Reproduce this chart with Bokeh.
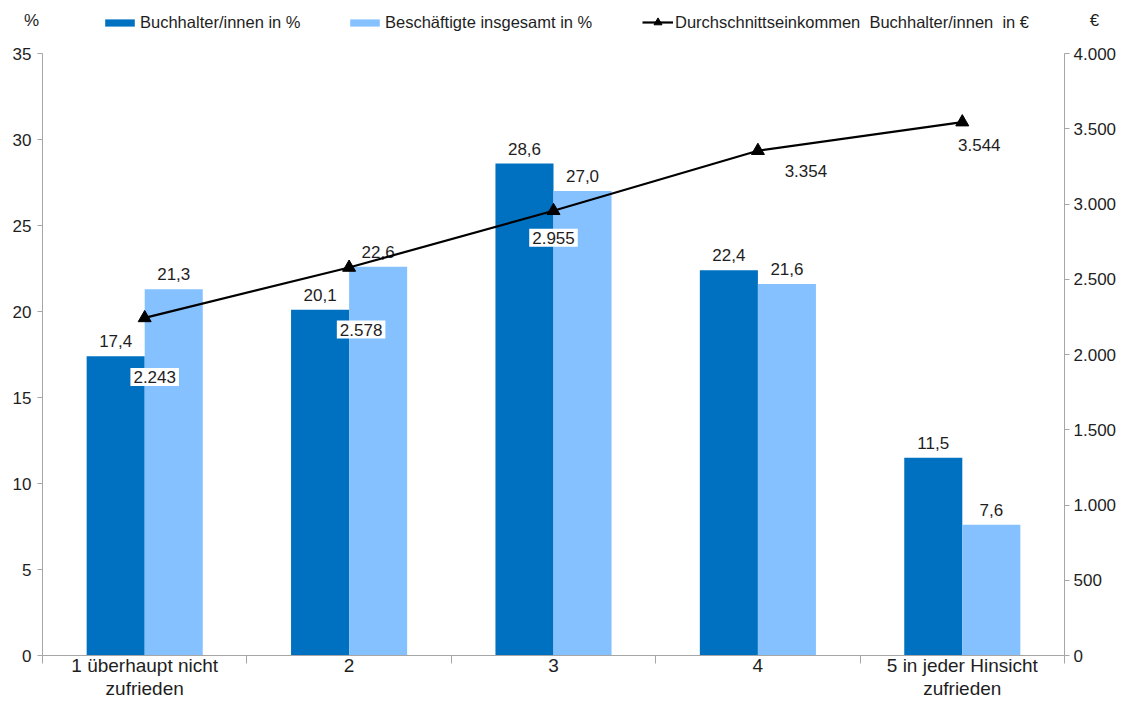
from bokeh.plotting import figure
from bokeh.models import (ColumnDataSource, Range1d, LinearAxis, FixedTicker, Legend,
                          LegendItem, Label)
from bokeh.transform import dodge
from bokeh.core.properties import value
from bokeh.embed import file_html
from bokeh.resources import INLINE

# ---------------- data ----------------
categories = ["1 überhaupt nicht\nzufrieden", "2", "3", "4", "5 in jeder Hinsicht\nzufrieden"]
buchhalter_pct = [17.4, 20.1, 28.6, 22.4, 11.5]
beschaeftigte_pct = [21.3, 22.6, 27.0, 21.6, 7.6]
einkommen_eur = [2243, 2578, 2955, 3354, 3544]
pct_ticks = [0, 5, 10, 15, 20, 25, 30, 35]
eur_ticks = [0, 500, 1000, 1500, 2000, 2500, 3000, 3500, 4000]
series_names = ["Buchhalter/innen in %", "Beschäftigte insgesamt in %",
                "Durchschnittseinkommen  Buchhalter/innen  in €"]

# ---------------- style / layout ----------------
FONT = "Liberation Sans"
DARK = "#0070C0"
LIGHT = "#86C1FF"
AXIS = "#A6A6A6"
TXT = "#1E1E1E"
W, H = 1117, 701
N = len(categories)
Y_MAX = 35
EUR_MAX = 4000
PX_LEFT, PX_RIGHT = 42, 1064      # pixel columns of the two value axes
PX_TOP_35, PX_ZERO = 53, 655      # pixel rows of value 35 and value 0
PPU = (PX_ZERO - PX_TOP_35) / Y_MAX
PPX = (PX_RIGHT - PX_LEFT) / N
Y_TOP = Y_MAX + PX_TOP_35 / PPU
Y_BOT = -(H - PX_ZERO) / PPU
X_LO = -PX_LEFT / PPX
X_HI = N + (W - PX_RIGHT) / PPX
BAR_W = 0.284
# label offsets for the income labels (screen px, right / down)
lab_dx = [10, 12, 0, 48, 17]
lab_dy = [59, 62, 27, 20, 23]

def de_num(v, dec):
    s = f"{v:,.{dec}f}"
    return s.replace(",", "X").replace(".", ",").replace("X", ".")

xc = [i + 0.5 for i in range(N)]
src = ColumnDataSource(dict(
    xc=xc,
    b=buchhalter_pct,
    g=beschaeftigte_pct,
    e=einkommen_eur,
    bl=[de_num(v, 1) for v in buchhalter_pct],
    gl=[de_num(v, 1) for v in beschaeftigte_pct],
    el=[de_num(v, 0) for v in einkommen_eur],
    dx=lab_dx,
    dy=lab_dy,
))

p = figure(width=W, height=H, output_backend="svg", toolbar_location=None,
           title=None, x_range=Range1d(X_LO, X_HI), y_range=Range1d(Y_BOT, Y_TOP),
           min_border_left=0, min_border_right=0, min_border_top=0, min_border_bottom=0)
p.extra_y_ranges = {"eur": Range1d(Y_BOT * EUR_MAX / Y_MAX, Y_TOP * EUR_MAX / Y_MAX)}
p.outline_line_color = None
p.xgrid.visible = False
p.ygrid.visible = False
p.background_fill_color = "white"
p.border_fill_color = "white"

# x axis (drawn at value 0 inside the frame)
xa = p.xaxis[0]
xa.fixed_location = 0
xa.bounds = (0, N)
xa.ticker = FixedTicker(ticks=xc, minor_ticks=list(range(N + 1)))
xa.major_label_overrides = {x: c for x, c in zip(xc, categories)}
xa.axis_line_color = AXIS
xa.major_tick_line_color = None
xa.major_tick_out = 0
xa.major_tick_in = 0
xa.minor_tick_line_color = AXIS
xa.minor_tick_out = 8
xa.minor_tick_in = 0
xa.major_label_standoff = -9
xa.major_label_text_font = FONT
xa.major_label_text_font_size = "19px"
xa.major_label_text_line_height = 1.1
xa.major_label_text_color = TXT

# left axis (drawn at x = 0)
ya = p.yaxis[0]
ya.fixed_location = 0
ya.ticker = FixedTicker(ticks=pct_ticks)
ya.bounds = (0, Y_MAX)
ya.axis_line_color = AXIS
ya.major_tick_line_color = AXIS
ya.major_tick_out = 5
ya.major_tick_in = 0
ya.minor_tick_line_color = None
ya.major_label_standoff = 6
ya.major_label_text_font = FONT
ya.major_label_text_font_size = "17px"
ya.major_label_text_color = TXT

# right axis (drawn at x = N)
ra = LinearAxis(y_range_name="eur", ticker=FixedTicker(ticks=eur_ticks), bounds=(0, EUR_MAX),
                fixed_location=N)
ra.major_label_overrides = {t: de_num(t, 0) for t in eur_ticks}
ra.axis_line_color = AXIS
ra.major_tick_line_color = AXIS
ra.major_tick_out = 5
ra.major_tick_in = 0
ra.minor_tick_line_color = None
ra.major_label_standoff = 4
ra.major_label_text_font = FONT
ra.major_label_text_font_size = "17px"
ra.major_label_text_color = TXT
p.add_layout(ra, "right")

# bars
r_dark = p.vbar(x=dodge("xc", -BAR_W / 2), top="b", width=BAR_W, source=src,
                fill_color=DARK, line_color=None)
r_light = p.vbar(x=dodge("xc", BAR_W / 2), top="g", width=BAR_W, source=src,
                 fill_color=LIGHT, line_color=None)

p.text(x=dodge("xc", -BAR_W / 2), y="b", text="bl", source=src, y_offset=-9,
       text_align="center", text_baseline="bottom", text_font=value(FONT),
       text_font_size="17px", text_color=TXT)
p.text(x=dodge("xc", BAR_W / 2), y="g", text="gl", source=src, y_offset=-9,
       text_align="center", text_baseline="bottom", text_font=value(FONT),
       text_font_size="17px", text_color=TXT)

# income line
r_line = p.line(x="xc", y="e", source=src, y_range_name="eur", line_color="black", line_width=2.2)
r_mark = p.scatter(x="xc", y="e", source=src, y_range_name="eur", marker="triangle",
                   size=13, fill_color="black", line_color="black")

p.text(x="xc", y="e", text="el", source=src, y_range_name="eur",
       x_offset="dx", y_offset="dy", text_align="center", text_baseline="middle",
       text_font=value(FONT), text_font_size="17px", text_color=TXT,
       background_fill_color="white", padding=3)

# legends (inside the frame, above the value 35)
def mk_legend(item, x, gw, gh):
    lg = Legend(items=[item], location=(x, H - 32), orientation="horizontal",
                border_line_color=None, background_fill_alpha=0, padding=0, margin=0,
                glyph_width=gw, glyph_height=gh, label_standoff=2, label_height=20,
                label_text_font=FONT, label_text_font_size="16.5px", label_text_color=TXT)
    p.add_layout(lg, "center")

mk_legend(LegendItem(label=series_names[0], renderers=[r_dark]), 101, 37, 9)
mk_legend(LegendItem(label=series_names[1], renderers=[r_light]), 346, 37, 9)
mk_legend(LegendItem(label=series_names[2], renderers=[r_line, r_mark]), 642, 31, 20)

for txt, x in (("%", 31), ("€", 1094)):
    p.add_layout(Label(x=x, y=H - 20, x_units="screen", y_units="screen", text=txt,
                       text_align="center", text_baseline="middle", text_font=FONT,
                       text_font_size="17px", text_color=TXT))

open("out.html", "w").write(file_html(p, INLINE))
